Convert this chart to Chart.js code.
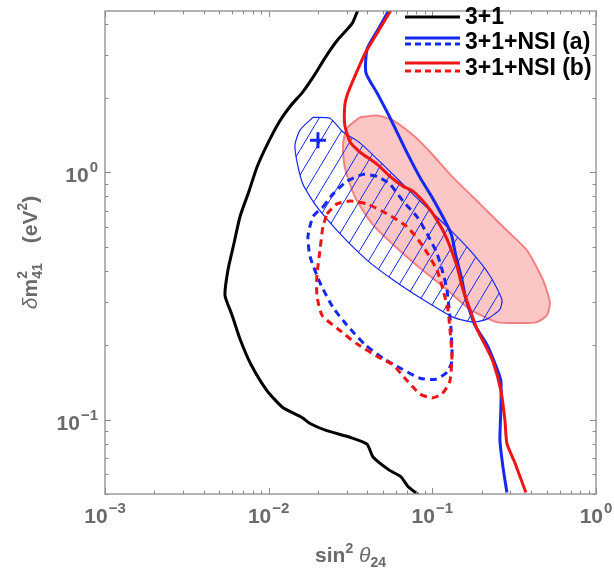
<!DOCTYPE html>
<html lang="en">
<head>
<meta charset="UTF-8">
<title>sin2 theta24 vs delta m2 41</title>
<script src="https://cdn.jsdelivr.net/npm/chart.js"></script>
<style>
  * { margin: 0; padding: 0; box-sizing: border-box; }
  body { background: white; width: 614px; height: 572px; overflow: hidden; }
  #chart { display: block; }
</style>
</head>
<body>
<canvas id="chart" width="614" height="572"></canvas>
<script>
// axis ranges and major ticks
const xRange = [0.001, 1];
const yRange = [0.05, 4.5];
const xTicks = [0.001, 0.01, 0.1, 1];
const xTickExp = ['\u22123', '\u22122', '\u22121', '0'];
const yTicks = [0.1, 1];
const yTickExp = ['\u22121', '0'];

// 3+1 (black)
const blackX = [0.0351,0.0323,0.0265,0.0224,0.0189,0.0160,0.0137,0.0116,0.00976,0.00848,0.00758,0.00668,0.00614,0.00564,0.00541,0.00597,0.00668,0.0078,0.00976,0.0122,0.0160,0.0179,0.0224,0.0314,0.0399,0.0434,0.0543,0.0643,0.0710,0.0817];
const blackY = [4.54,4.0,3.45,2.95,2.46,2.10,1.87,1.60,1.29,1.05,0.840,0.662,0.517,0.403,0.318,0.265,0.212,0.167,0.131,0.112,0.102,0.0964,0.0904,0.0848,0.0795,0.0706,0.0626,0.0587,0.0536,0.0498];

// 3+1+NSI (a) solid / dashed
const blueX = [0.0543,0.0465,0.0399,0.0393,0.0459,0.0543,0.0608,0.0710,0.0840,0.0994,0.1245,0.1317,0.1394,0.1517,0.1582,0.1627,0.182,0.2156,0.248,0.2624,0.2624,0.2588,0.270,0.2855];
const blueY = [4.54,3.78,3.15,2.53,2.10,1.70,1.457,1.18,0.955,0.795,0.604,0.551,0.4585,0.368,0.318,0.298,0.241,0.201,0.161,0.143,0.1116,0.0825,0.0644,0.0507];
const blueDashX = [0.02147,0.0247,0.0301,0.0377,0.0459,0.0551,0.0661,0.0805,0.0927,0.1067,0.1161,0.1228,0.1263,0.1299,0.1317,0.1317,0.1228,0.1052,0.084,0.0643,0.0513,0.0388,0.0301,0.0247,0.02058,0.01788,0.01738,0.01865,0.02147];
const blueDashY = [0.725,0.817,0.921,0.982,0.964,0.896,0.766,0.662,0.566,0.471,0.3924,0.336,0.2845,0.2368,0.1936,0.1718,0.1553,0.1457,0.147,0.161,0.175,0.201,0.241,0.2845,0.358,0.4585,0.551,0.662,0.725];

// 3+1+NSI (b) solid / dashed
const redX = [0.0559,0.0459,0.0388,0.0337,0.0305,0.0292,0.0292,0.0314,0.0361,0.0459,0.0551,0.0661,0.0761,0.0876,0.1009,0.1161,0.128,0.1413,0.1538,0.1697,0.1872,0.2096,0.2346,0.2624,0.2777,0.2855,0.3196,0.373];
const redY = [4.54,3.65,3.03,2.46,2.10,1.87,1.55,1.33,1.21,1.08,0.964,0.880,0.840,0.766,0.680,0.582,0.503,0.418,0.336,0.279,0.233,0.201,0.172,0.131,0.0991,0.0802,0.0668,0.0507];
const redDashX = [0.0227,0.02614,0.0314,0.0399,0.0528,0.0699,0.0876,0.1067,0.1161,0.1245,0.128,0.1317,0.128,0.1145,0.0994,0.084,0.068,0.0574,0.0485,0.0346,0.0265,0.02117,0.01972,0.01972,0.02058,0.02147,0.0227];
const redDashY = [0.680,0.746,0.766,0.746,0.680,0.604,0.503,0.403,0.336,0.2794,0.2326,0.1832,0.143,0.127,0.1224,0.127,0.147,0.167,0.1766,0.2026,0.2326,0.2645,0.318,0.382,0.4845,0.604,0.680];

// hatched allowed region (blue) and pink region
const hatchX = [0.01865,0.02368,0.02844,0.0361,0.0478,0.0661,0.0876,0.1228,0.1697,0.2249,0.2661,0.2588,0.2156,0.177,0.1336,0.0876,0.0574,0.0399,0.02726,0.01972,0.0162,0.01489,0.01448,0.01553,0.01865];
const hatchY = [1.671,1.656,1.457,1.317,1.106,0.896,0.746,0.604,0.4845,0.382,0.306,0.2794,0.255,0.248,0.2597,0.306,0.368,0.442,0.566,0.725,0.896,1.106,1.293,1.484,1.671];
const pinkX = [0.0361,0.0459,0.0574,0.0761,0.0967,0.1336,0.1953,0.2855,0.3784,0.4738,0.5229,0.5013,0.4355,0.3428,0.248,0.1697,0.1228,0.084,0.0591,0.0428,0.0337,0.0292,0.02844,0.0301,0.0361];
const pinkY = [1.671,1.70,1.626,1.417,1.212,0.955,0.746,0.582,0.4845,0.368,0.298,0.2645,0.248,0.2457,0.248,0.2794,0.336,0.4108,0.503,0.621,0.795,1.047,1.293,1.511,1.671];

// best fit marker
const plusX = [0.02];
const plusY = [1.35];

const legendLabels = ['3+1', '3+1+NSI (a)', '3+1+NSI (b)'];

const BLUE = 'rgb(20,40,240)';
const RED = 'rgb(240,20,20)';
const GRAY = '#6a6a6a';
const FRAME = '#8c8c8c';
const FONT = '"Liberation Sans", Arial, sans-serif';

const pts = (xs, ys) => xs.map((x, i) => ({ x: x, y: ys[i] }));

const canvas = document.getElementById('chart');
const mainCtx = canvas.getContext('2d');

// diagonal hatch pattern
function makeHatch() {
    const w = 15, h = 25;
    const c = document.createElement('canvas');
    c.width = w; c.height = h;
    const g = c.getContext('2d');
    g.strokeStyle = BLUE;
    g.lineWidth = 1;
    g.beginPath();
    g.moveTo(-2, h + 2 * h / w);
    g.lineTo(w + 2, -2 * h / w);
    g.stroke();
    return mainCtx.createPattern(c, 'repeat');
}

// text made of runs (for superscripts / subscripts)
function layoutRuns(ctx, parts) {
    let pos = 0, prevStart = 0, prevEnd = 0;
    const items = [];
    for (const p of parts) {
        if (p.gap) { pos += p.gap; prevStart = prevEnd = pos; continue; }
        ctx.font = p.f;
        const w = ctx.measureText(p.t).width;
        const start = p.back ? prevStart : pos;
        items.push({ t: p.t, f: p.f, dy: p.dy || 0, x: start });
        const end = start + w;
        pos = p.back ? Math.max(prevEnd, end) : end;
        prevStart = start; prevEnd = end;
    }
    return { items: items, width: pos };
}

function drawRuns(ctx, parts, x, y, align) {
    const lay = layoutRuns(ctx, parts);
    let x0 = x;
    if (align === 'center') x0 = x - lay.width / 2;
    if (align === 'right') x0 = x - lay.width;
    ctx.textAlign = 'left';
    ctx.textBaseline = 'alphabetic';
    for (const it of lay.items) {
        ctx.font = it.f;
        ctx.fillText(it.t, x0 + it.x, y + it.dy);
    }
}

function minorValues(lo, hi) {
    const out = [];
    for (let e = Math.floor(Math.log10(lo)); e <= Math.ceil(Math.log10(hi)); e++) {
        for (let m = 1; m <= 9; m++) {
            const v = m * Math.pow(10, e);
            if (v >= lo * 0.999 && v <= hi * 1.001) out.push({ v: v, major: m === 1 });
        }
    }
    return out;
}

const decor = {
    id: 'decor',
    afterDraw(chart) {
        const { ctx, chartArea: a, scales } = chart;
        const sx = scales.x, sy = scales.y;
        ctx.save();

        // frame
        ctx.strokeStyle = FRAME;
        ctx.lineWidth = 1.3;
        ctx.strokeRect(a.left, a.top, a.right - a.left, a.bottom - a.top);

        // ticks on all four sides, pointing inward
        ctx.lineWidth = 1;
        ctx.beginPath();
        for (const t of minorValues(xRange[0], xRange[1])) {
            const px = Math.round(sx.getPixelForValue(t.v)) + 0.5;
            const len = t.major ? 6 : 3.5;
            ctx.moveTo(px, a.bottom); ctx.lineTo(px, a.bottom - len);
            ctx.moveTo(px, a.top); ctx.lineTo(px, a.top + len);
        }
        for (const t of minorValues(yRange[0], yRange[1])) {
            const py = Math.round(sy.getPixelForValue(t.v)) + 0.5;
            const len = t.major ? 6 : 3.5;
            ctx.moveTo(a.left, py); ctx.lineTo(a.left + len, py);
            ctx.moveTo(a.right, py); ctx.lineTo(a.right - len, py);
        }
        ctx.stroke();

        // tick labels
        ctx.fillStyle = GRAY;
        const big = 'bold 21px ' + FONT;
        const sup = 'bold 15px ' + FONT;
        xTicks.forEach((v, i) => {
            const px = sx.getPixelForValue(v);
            drawRuns(ctx, [{ t: '10', f: big }, { gap: 1 }, { t: xTickExp[i], f: sup, dy: -10 }], px, a.bottom + 29, 'center');
        });
        yTicks.forEach((v, i) => {
            const py = sy.getPixelForValue(v);
            drawRuns(ctx, [{ t: '10', f: big }, { gap: 1 }, { t: yTickExp[i], f: sup, dy: -10 }], a.left - 7, py + 10, 'right');
        });

        // x title
        drawRuns(ctx, [
            { t: 'sin', f: 'bold 21px ' + FONT },
            { t: '2', f: 'bold 14px ' + FONT, dy: -9 },
            { t: ' \u03B8', f: 'italic 21px ' + FONT },
            { t: '24', f: 'bold 14px ' + FONT, dy: 5 }
        ], (a.left + a.right) / 2, 562, 'center');

        // y title
        ctx.save();
        ctx.translate(37, (a.top + a.bottom) / 2);
        ctx.rotate(-Math.PI / 2);
        drawRuns(ctx, [
            { t: '\u03B4', f: 'italic 21px ' + FONT },
            { t: 'm', f: 'bold 21px ' + FONT },
            { t: '2', f: 'bold 14px ' + FONT, dy: -10 },
            { t: '41', f: 'bold 14px ' + FONT, dy: 5, back: true },
            { gap: 20 },
            { t: '(eV', f: 'bold 21px ' + FONT },
            { t: '2', f: 'bold 14px ' + FONT, dy: -10 },
            { t: ')', f: 'bold 21px ' + FONT }
        ], 0, 0, 'center');
        ctx.restore();

        // legend
        const lx0 = 405, lx1 = 460, tx = 465;
        const sample = (color, y, dash) => {
            ctx.strokeStyle = color;
            ctx.lineWidth = 3;
            ctx.setLineDash(dash ? [6, 4] : []);
            ctx.beginPath(); ctx.moveTo(lx0, y); ctx.lineTo(lx1, y); ctx.stroke();
        };
        sample('#000', 17, false);
        sample(BLUE, 38, false); sample(BLUE, 44, true);
        sample(RED, 63, false); sample(RED, 71, true);
        ctx.setLineDash([]);
        ctx.fillStyle = '#000';
        ctx.font = 'bold 23px ' + FONT;
        ctx.textAlign = 'left';
        ctx.textBaseline = 'middle';
        ctx.fillText(legendLabels[0], tx, 18);
        ctx.fillText(legendLabels[1], tx, 43);
        ctx.fillText(legendLabels[2], tx, 69);

        ctx.restore();
    }
};

const lineBase = { showLine: true, pointRadius: 0, pointHoverRadius: 0, tension: 0.2, fill: false };

new Chart(mainCtx, {
    type: 'scatter',
    data: {
        datasets: [
            Object.assign({}, lineBase, { label: 'pink', data: pts(pinkX, pinkY), fill: 'shape',
                backgroundColor: 'rgb(250,198,198)', borderColor: 'rgb(242,130,130)', borderWidth: 2, order: 7 }),
            Object.assign({}, lineBase, { label: 'hatch', data: pts(hatchX, hatchY), fill: 'shape',
                backgroundColor: makeHatch(), borderColor: BLUE, borderWidth: 1.2, order: 6 }),
            Object.assign({}, lineBase, { label: 'a dashed', data: pts(blueDashX, blueDashY),
                borderColor: BLUE, borderWidth: 3, borderDash: [7, 5], order: 5 }),
            Object.assign({}, lineBase, { label: 'b dashed', data: pts(redDashX, redDashY),
                borderColor: RED, borderWidth: 3, borderDash: [7, 5], order: 4 }),
            Object.assign({}, lineBase, { label: legendLabels[0], data: pts(blackX, blackY),
                borderColor: '#000', borderWidth: 3, order: 3 }),
            Object.assign({}, lineBase, { label: legendLabels[1], data: pts(blueX, blueY),
                borderColor: BLUE, borderWidth: 3, order: 2 }),
            Object.assign({}, lineBase, { label: legendLabels[2], data: pts(redX, redY),
                borderColor: RED, borderWidth: 3, order: 1 }),
            { label: 'best fit', data: pts(plusX, plusY), showLine: false, pointStyle: 'cross',
              pointRadius: 8, borderColor: BLUE, borderWidth: 3, order: 0 }
        ]
    },
    options: {
        responsive: false,
        animation: false,
        devicePixelRatio: 1,
        layout: { padding: { left: 105, right: 18, top: 4, bottom: 78 } },
        plugins: { legend: { display: false }, tooltip: { enabled: false } },
        scales: {
            x: { type: 'logarithmic', min: xRange[0], max: xRange[1], display: false, bounds: 'data' },
            y: { type: 'logarithmic', min: yRange[0], max: yRange[1], display: false, bounds: 'data' }
        }
    },
    plugins: [decor]
});
</script>
</body>
</html>
